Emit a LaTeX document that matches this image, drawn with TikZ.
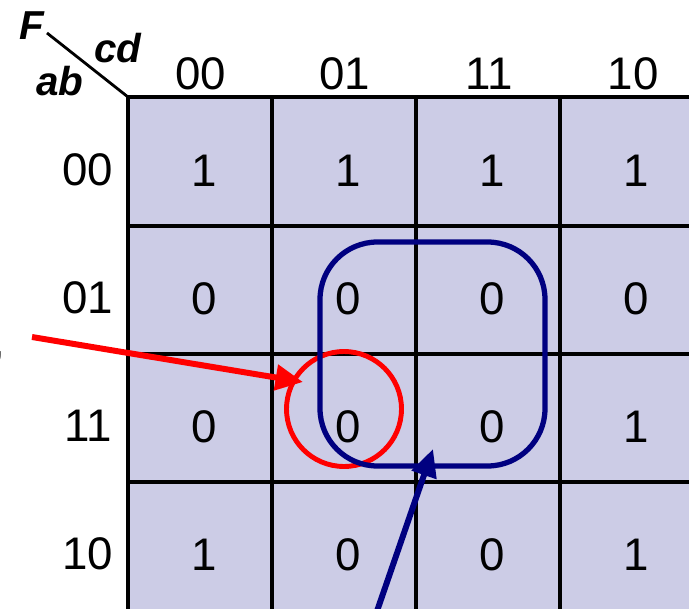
\documentclass[tikz,border=0pt]{standalone}
\usepackage{fontspec}
\setmainfont{Liberation Sans}
\usetikzlibrary{arrows.meta}
\definecolor{kfill}{RGB}{204,204,230}
\definecolor{navy}{RGB}{0,0,128}

\begin{document}
\begin{tikzpicture}[x=0.02cm,y=-0.02cm,
 val/.style={font=\fontsize{26}{30}\selectfont,inner sep=0pt},
 corner/.style={font=\fontsize{23}{27}\selectfont\bfseries\itshape,inner sep=0pt},
 gridline/.style={line width=2.3pt},
 arrow/.style={-{Triangle[length=5.5mm,width=5mm]},line width=3.4pt}]
\useasboundingbox (0,0) rectangle (689,608);
\clip (0,0) rectangle (689,608);
% map area
\fill[kfill] (128,97) rectangle (720,640);
\draw[gridline] (128,640) -- (128,97) -- (720,97);
\draw[gridline] (272,97) -- (272,640);
\draw[gridline] (416,97) -- (416,640);
\draw[gridline] (560,97) -- (560,640);
\draw[gridline] (128,226) -- (720,226);
\draw[gridline] (128,354) -- (720,354);
\draw[gridline] (128,482) -- (720,482);
% corner
\coordinate (slashtop) at (47,33);
\coordinate (slashend) at (128,97);
\draw[line width=1.6pt] (slashtop) -- (slashend);
\node[corner] (Flabel) at (32,26) {F};
\node[corner] (cdlabel) at (118,48) {cd};
\node[corner] (ablabel) at (60,81) {ab};
% headers
\node[val] (cd00) at (201,74) {00};
\node[val] (cd01) at (345,74) {01};
\node[val] (cd11) at (489,74) {11};
\node[val] (cd10) at (633,74) {10};
\node[val] (ab00) at (88,170) {00};
\node[val] (ab01) at (88,298) {01};
\node[val] (ab11) at (88,426) {11};
\node[val] (ab10) at (88,554) {10};
\node[val,anchor=base east] (cut) at (6,356) {,};
% cells
\node[val] (m0000) at (204,171) {1};
\node[val] (m0001) at (348,171) {1};
\node[val] (m0011) at (492,171) {1};
\node[val] (m0010) at (636,171) {1};
\node[val] (m0100) at (204,299) {0};
\node[val] (m0101) at (348,299) {0};
\node[val] (m0111) at (492,299) {0};
\node[val] (m0110) at (636,299) {0};
\node[val] (m1100) at (204,427) {0};
\node[val] (m1101) at (348,427) {0};
\node[val] (m1111) at (492,427) {0};
\node[val] (m1110) at (636,427) {1};
\node[val] (m1000) at (204,555) {1};
\node[val] (m1001) at (348,555) {0};
\node[val] (m1011) at (492,555) {0};
\node[val] (m1010) at (636,555) {1};
% groups
\draw[red,line width=2.8pt] (344,409) circle [radius=1.15cm];
\draw[navy,line width=3pt,rounded corners=1.15cm] (320,242) rectangle (545,466);
% pointers
\coordinate (redtail) at (32,337);
\coordinate (redtip) at (303,382);
\coordinate (bluetail) at (367,640);
\coordinate (bluetip) at (433,449);
\draw[arrow,red] (redtail) -- (redtip);
\draw[arrow,navy] (bluetail) -- (bluetip);
\end{tikzpicture}
\end{document}
